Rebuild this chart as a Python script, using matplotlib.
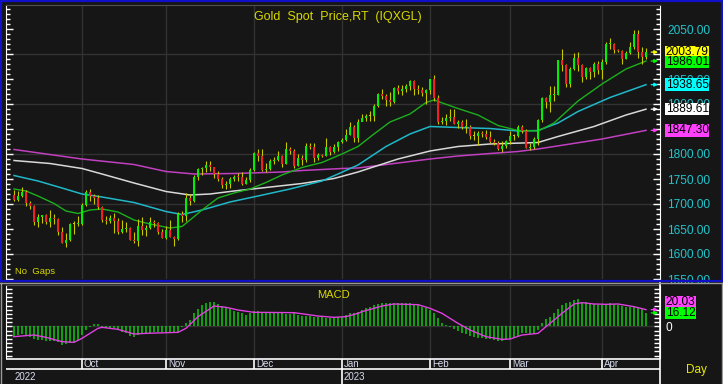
import numpy as np
import pandas as pd
import matplotlib
matplotlib.use('Agg')
import matplotlib.pyplot as plt
from matplotlib.lines import Line2D
from matplotlib.patches import Rectangle
from matplotlib.ticker import MultipleLocator, FuncFormatter

plt.rcParams['font.family'] = ['Liberation Sans', 'DejaVu Sans']

# trading days shown (spot gold, every weekday)
dates = pd.bdate_range('2022-09-08', '2023-04-18')

opens = [1718, 1708, 1716, 1725, 1702, 1697, 1665, 1675, 1678, 1664, 1673, 1671, 1644, 1623, 1628, 1660, 1660,
         1661, 1699, 1725, 1716, 1712, 1695, 1668, 1666, 1673, 1666, 1644, 1650, 1652, 1629, 1627, 1657, 1649, 1652, 1665, 1663, 1644,
         1633, 1648, 1634, 1630, 1681, 1676, 1712, 1706, 1755, 1771, 1772, 1779, 1774, 1761, 1751, 1738, 1740, 1750, 1755, 1754, 1741, 1749,
         1768, 1803, 1797, 1769, 1771, 1786, 1789, 1797, 1781, 1810, 1807, 1777, 1793, 1788, 1817, 1814, 1792, 1798, 1797, 1814, 1804, 1815,
         1824, 1828, 1839, 1855, 1833, 1865, 1872, 1876, 1876, 1896, 1920, 1916, 1908, 1904, 1932, 1926, 1931, 1937, 1946, 1930, 1928, 1923,
         1928, 1950, 1912, 1865, 1867, 1873, 1875, 1861, 1865, 1854, 1855, 1836, 1836, 1842, 1840, 1835, 1825, 1822, 1811, 1817,
         1827, 1836, 1836, 1855, 1847, 1813, 1814, 1831, 1868, 1913, 1904, 1918, 1919, 1988, 1979, 1940, 1970, 1993, 1978, 1955, 1973, 1964, 1980,
         1969, 1984, 2020, 2021, 2008, 2007, 1991, 2003, 2014, 2040, 2004, 1995]
highs = [1729, 1726, 1735, 1728, 1707, 1699, 1681, 1679, 1680, 1688, 1680, 1673, 1654, 1642, 1663, 1667, 1676,
         1703, 1729, 1730, 1721, 1719, 1697, 1676, 1678, 1682, 1672, 1669, 1664, 1655, 1644, 1670, 1675, 1659, 1675, 1669, 1665, 1650,
         1656, 1668, 1636, 1684, 1686, 1722, 1720, 1758, 1772, 1775, 1786, 1787, 1775, 1767, 1755, 1746, 1755, 1759, 1762, 1764, 1755, 1772,
         1805, 1810, 1810, 1782, 1790, 1794, 1807, 1798, 1825, 1814, 1810, 1800, 1798, 1822, 1823, 1823, 1802, 1800, 1833, 1816, 1820, 1826,
         1832, 1850, 1865, 1858, 1870, 1881, 1880, 1886, 1901, 1922, 1930, 1920, 1925, 1935, 1938, 1938, 1941, 1949, 1949, 1938, 1934, 1930,
         1951, 1959, 1918, 1874, 1880, 1890, 1890, 1869, 1869, 1870, 1858, 1846, 1846, 1847, 1848, 1847, 1830, 1827, 1826, 1829,
         1846, 1840, 1858, 1858, 1851, 1822, 1834, 1870, 1914, 1915, 1937, 1937, 1989, 2010, 1981, 1974, 2003, 2004, 1980, 1975, 1975, 1984, 1987,
         1990, 2025, 2032, 2022, 2010, 2009, 2007, 2024, 2048, 2048, 2015, 2012]
lows = [1707, 1707, 1714, 1697, 1691, 1659, 1654, 1662, 1660, 1654, 1660, 1639, 1622, 1615, 1626, 1641, 1657,
        1659, 1696, 1707, 1701, 1690, 1664, 1660, 1663, 1642, 1640, 1642, 1645, 1628, 1622, 1617, 1639, 1637, 1650, 1655, 1640, 1632,
        1630, 1634, 1616, 1629, 1664, 1666, 1699, 1705, 1749, 1759, 1764, 1767, 1753, 1746, 1732, 1731, 1733, 1746, 1747, 1739, 1740, 1745,
        1767, 1786, 1766, 1765, 1768, 1781, 1787, 1775, 1780, 1800, 1773, 1776, 1779, 1784, 1810, 1784, 1789, 1794, 1797, 1798, 1802, 1807,
        1822, 1826, 1838, 1825, 1825, 1866, 1866, 1867, 1867, 1895, 1911, 1896, 1897, 1902, 1921, 1918, 1925, 1928, 1918, 1921, 1917, 1900,
        1920, 1907, 1861, 1860, 1858, 1867, 1860, 1853, 1850, 1843, 1831, 1828, 1818, 1835, 1830, 1822, 1818, 1809, 1805, 1812,
        1821, 1829, 1835, 1843, 1813, 1809, 1810, 1819, 1865, 1893, 1885, 1906, 1918, 1967, 1934, 1935, 1968, 1966, 1945, 1950, 1950, 1955, 1960,
        1950, 1980, 2010, 2003, 2004, 1981, 1990, 2000, 2010, 1993, 1981, 1990]
closes = [1708, 1717, 1725, 1702, 1697, 1665, 1675, 1678, 1664, 1673, 1671, 1644, 1623, 1628, 1660, 1660, 1661,
          1699, 1725, 1716, 1712, 1695, 1668, 1666, 1673, 1666, 1644, 1650, 1652, 1629, 1627, 1657, 1649, 1652, 1665, 1663, 1644, 1633,
          1648, 1634, 1630, 1681, 1676, 1712, 1706, 1755, 1771, 1772, 1779, 1774, 1761, 1751, 1738, 1740, 1750, 1755, 1754, 1741, 1749, 1768,
          1803, 1797, 1769, 1771, 1786, 1789, 1797, 1781, 1810, 1807, 1777, 1793, 1788, 1817, 1814, 1792, 1798, 1797, 1814, 1804, 1815, 1824,
          1828, 1839, 1855, 1833, 1865, 1872, 1876, 1876, 1896, 1920, 1916, 1908, 1904, 1932, 1926, 1931, 1937, 1946, 1930, 1928, 1923, 1928,
          1950, 1912, 1865, 1867, 1873, 1875, 1861, 1865, 1854, 1855, 1836, 1836, 1842, 1840, 1835, 1825, 1822, 1811, 1817, 1827,
          1836, 1836, 1855, 1847, 1813, 1814, 1831, 1868, 1913, 1904, 1918, 1919, 1988, 1979, 1940, 1970, 1993, 1978, 1955, 1973, 1964, 1980, 1969,
          1984, 2020, 2021, 2008, 2007, 1991, 2003, 2014, 2040, 2004, 1995, 2003.79]

# moving averages at (day index, value)
ma20_idx = [0, 3, 6, 10, 13, 16, 19, 22, 26, 30, 34, 39, 42, 44, 47, 51, 55, 59, 63, 67, 72, 77, 82, 86,
            90, 94, 99, 103, 105, 111, 116, 121, 126, 131, 135, 141, 147, 153, 158]
ma20_val = [1730, 1726, 1716, 1701, 1686, 1681, 1688, 1690, 1684, 1668, 1660, 1652, 1655, 1668, 1688, 1712,
            1722, 1730, 1743, 1758, 1773, 1783, 1800, 1815, 1840, 1864, 1880, 1903, 1908, 1891, 1878, 1857,
            1847, 1846, 1862, 1906, 1940, 1970, 1986.01]
ma50_idx = [0, 6, 12, 17, 22, 30, 38, 42, 47, 54, 61, 69, 77, 81, 86, 93, 99, 104, 111, 119, 126, 131,
            136, 141, 149, 158]
ma50_val = [1757, 1746, 1732, 1720, 1714, 1703, 1685, 1679, 1688, 1704, 1716, 1730, 1746, 1760, 1778, 1815,
            1840, 1855, 1853, 1851, 1846, 1847, 1862, 1885, 1913, 1938.65]
ma100_idx = [0, 9, 17, 22, 30, 38, 44, 49, 55, 63, 72, 80, 86, 96, 104, 111, 119, 131, 136, 145, 153, 158]
ma100_val = [1787, 1781, 1771, 1760, 1742, 1725, 1718, 1720, 1726, 1733, 1741, 1751, 1764, 1790, 1806, 1815,
             1820, 1823, 1835, 1855, 1878, 1889.61]
ma200_idx = [0, 17, 30, 38, 45, 55, 67, 72, 82, 86, 96, 104, 111, 119, 126, 131, 139, 147, 158]
ma200_val = [1809, 1790, 1779, 1765, 1760, 1761, 1764, 1767, 1771, 1772, 1782, 1790, 1796, 1801, 1805, 1810,
             1820, 1830, 1847.30]

macd_hist = [-13.2, -10.4, -9.6, -11.2, -13.2, -15.6, -16.4, -16.4, -17.6, -17.6, -17.6, -19.2, -22.4, -21.6,
             -19.6, -18.4, -16.4, -10.4, -4.4, -0.4, 2.4, 2.8, -0.4, -1.6, -2.4, -2.4, -4.4, -6.4, -8.4, -11.6,
             -13.2, -10.4, -8.4, -8.4, -7.6, -6.4, -6.4, -6.4, -7.2, -7.6, -7.6, -6.4, -0.4, 4.4, 7.6, 15.6, 20.4,
             25.6, 27.6, 28.8, 29.2, 26.8, 24.4, 22.8, 20.8, 18.8, 17.6, 15.6, 13.6, 15.6, 18.4, 18.8, 17.2, 16.4,
             16.4, 16.4, 16.4, 15.6, 14.8, 14.8, 15.6, 13.6, 12.8, 12.4, 12.4, 11.6, 10.8, 10.8, 9.6, 9.6, 10.8,
             10.8, 11.6, 13.6, 15.6, 16.4, 16.8, 19.6, 21.6, 23.6, 25.6, 26.8, 27.6, 27.6, 27.6, 27.6, 27.6, 27.6,
             27.6, 27.6, 26.8, 25.6, 23.6, 21.6, 19.6, 16.4, 9.6, 4.4, 1.2, -1.2, -3.6, -5.2, -7.6, -9.6, -11.6,
             -13.2, -14.4, -14.4, -15.2, -15.6, -16.4, -17.2, -17.2, -16.4, -15.6, -13.2, -11.6, -8.4, -8.4, -9.2,
             -8.4, -4.4, 3.6, 8.4, 11.6, 15.6, 21.0, 26.0, 28.4, 29.2, 31.6, 32.4, 29.6, 29.2, 27.6, 26.8, 25.6,
             25.6, 26.8, 27.6, 26.8, 26.0, 24.4, 23.6, 22.8, 22.8, 22.8, 20.4, 16.12]
sig_idx = [0, 5, 8, 12, 15, 17, 21, 22, 26, 30, 33, 41, 43, 46, 50, 53, 56, 60, 70, 76, 80, 83, 86, 87, 92,
           95, 101, 104, 107, 111, 114, 118, 122, 124, 127, 131, 133, 137, 140, 142, 145, 148, 151, 155, 158]
sig_val = [-12.4, -10.4, -13.2, -18.4, -19.2, -14.4, -2.4, -1.2, -3.6, -9.2, -8.4, -7.2, -2.4, 11.6, 24.4,
           22.8, 19.6, 16.8, 16.4, 12.4, 10.8, 11.6, 15.6, 17.6, 24.4, 26.8, 26.0, 21.6, 15.6, 3.6, -4.4, -12.4,
           -15.6, -15.2, -10.4, -8.4, -0.4, 15.6, 26.8, 28.4, 26.8, 26.4, 26.8, 23.6, 20.03]

BG = '#161616'
GRID = '#323232'
YEL = '#d8d800'
W, H = 723, 384


def box(l, t, r, b):
    return [l / W, 1 - b / H, (r - l) / W, (b - t) / H]


def fig_line(x0, y0, x1, y1, c, lw=1.0):
    fig.add_artist(Line2D([x0 / W, x1 / W], [1 - y0 / H, 1 - y1 / H], color=c, lw=lw,
                          transform=fig.transFigure))


def small_arrow(a, v, col):
    a.annotate('', xy=(161.0, v), xytext=(159.3, v),
               arrowprops=dict(arrowstyle='-|>', color=col, lw=0.9, mutation_scale=5,
                               shrinkA=0, shrinkB=0), zorder=6)


fig = plt.figure(figsize=(W / 100, H / 100), dpi=100, facecolor=BG)
ax = fig.add_axes(box(6, 5, 660, 279))
axm = fig.add_axes(box(6, 285, 660, 358))
axd = fig.add_axes(box(6, 358, 660, 384))

n = len(closes)
idx = np.arange(n)
o = np.array(opens, float)
c = np.array(closes, float)
hi = np.array(highs, float)
lo = np.array(lows, float)
month_start = [i for i in range(1, n) if dates[i].month != dates[i - 1].month]

x_lim = (-2, 161.5)
for a in (ax, axm, axd):
    a.set_facecolor(BG)
    a.set_xlim(*x_lim)

# ---- price pane
ax.set_ylim(1550, 2098)
for m in month_start:
    ax.axvline(m, color=GRID, lw=1, zorder=0)
for p in range(1600, 2100, 100):
    ax.axhline(p, color=GRID, lw=1, zorder=0)

ax.plot(ma200_idx, ma200_val, color='#c040c0', lw=1.1, zorder=2)
ax.plot(ma100_idx, ma100_val, color='#d8d8d8', lw=1.1, zorder=2)
ax.plot(ma50_idx, ma50_val, color='#20b8c8', lw=1.1, zorder=2)
ax.plot(ma20_idx, ma20_val, color='#1cb01c', lw=1.0, zorder=2)

ax.vlines(idx, lo, hi, color='#c8c800', lw=0.8, zorder=3)
body_col = np.where(c > o, '#00ee00', np.where(c < o, '#f02020', '#c8c800'))
body_h = np.maximum(np.abs(c - o), 1.5)
ax.bar(idx, body_h, bottom=np.minimum(o, c), width=0.72, color=body_col, lw=0, zorder=4)

# labels under the 2003.79 and 1847.30 tags are fully covered in the original
hidden = {2000, 1850}
ax.yaxis.tick_right()
ax.yaxis.set_major_locator(MultipleLocator(50))
ax.yaxis.set_minor_locator(MultipleLocator(10))
ax.yaxis.set_major_formatter(FuncFormatter(lambda v, p: '' if round(v) in hidden else f'{v:.2f}'))
ax.tick_params(axis='y', which='both', left=True, right=True, direction='in', colors='white',
               labelcolor='#22c4cc', labelsize=8.6, pad=5)
ax.tick_params(axis='y', which='major', length=5, width=1)
ax.tick_params(axis='y', which='minor', length=3, width=1)
ax.tick_params(axis='x', bottom=False, labelbottom=False)
for s in ('left', 'right'):
    ax.spines[s].set_color('white')
ax.spines['top'].set_color('#505050')
ax.spines['bottom'].set_visible(False)

ax.text(0.379, 0.978, 'Gold  Spot  Price,RT  (IQXGL)', transform=ax.transAxes, color=YEL,
        fontsize=9, ha='left', va='top')
ax.text(0.014, 0.01, 'No  Gaps', transform=ax.transAxes, color=YEL, fontsize=6.8,
        ha='left', va='bottom')

tr = ax.get_yaxis_transform()
# (value, tag centre, colour): the two top tags are nudged apart as in the original
badges = [(2003.79, 2004.5, '#ffff00'), (1986.01, 1984.0, '#00ff00'), (1938.65, 1938.65, '#00ffff'),
          (1889.61, 1889.61, '#ffffff'), (1847.30, 1847.30, '#ff40ff')]
for v, yv, col in badges:
    ax.text(1.0085, yv, f'{v:.2f}', transform=tr, color='black', fontsize=8.6, va='center',
            ha='left', zorder=10, clip_on=False,
            bbox=dict(boxstyle='square,pad=0.02', fc=col, ec='none'))
    small_arrow(ax, v, col)

# ---- MACD pane
axm.set_ylim(-38, 49.6)
for m in month_start:
    axm.axvline(m, color=GRID, lw=1, zorder=0)
axm.axhline(0, color=GRID, lw=1, zorder=0)
axm.vlines(idx, 0, macd_hist, color='#10c810', lw=1.1, zorder=2)
axm.plot(sig_idx, sig_val, color='#e040e0', lw=1.0, zorder=3)
axm.yaxis.tick_right()
axm.yaxis.set_major_locator(MultipleLocator(5))
axm.set_yticklabels([])
axm.tick_params(axis='y', which='both', left=True, right=True, direction='in', colors='white',
                length=4, width=1)
axm.tick_params(axis='x', bottom=False, labelbottom=False)
for s in ('left', 'right'):
    axm.spines[s].set_color('white')
axm.spines['top'].set_color('#505050')
axm.spines['bottom'].set_visible(False)
axm.text(0.475, 0.93, 'MACD', transform=axm.transAxes, color=YEL, fontsize=8, ha='left', va='top')
trm = axm.get_yaxis_transform()
axm.text(1.008, -1.5, '0', transform=trm, color='white', fontsize=8.6, va='center', ha='left',
         clip_on=False)
for v, yv, col in [(20.03, 29.0, '#ff44ff'), (16.12, 16.0, '#00ff00')]:
    axm.text(1.0085, yv, f'{v:.2f}', transform=trm, color='black', fontsize=8.6, va='center',
             ha='left', zorder=10, clip_on=False,
             bbox=dict(boxstyle='square,pad=0.02', fc=col, ec='none'))
    small_arrow(axm, v, col)

# ---- date axis
axd.set_ylim(26, 0)
axd.axis('off')
axd.axhline(0.5, color='white', lw=1.2)
axd.axhline(11, color='white', lw=1.2)
for m in month_start:
    top = 26 if dates[m].month == 1 else 11
    axd.vlines(m, 0.5, top, color='white', lw=1.2)
    axd.text(m + 0.5, 6.2, dates[m].strftime('%b'), color='#d8dcf0', fontsize=7, va='center', ha='left')
    if dates[m].month == 1:
        axd.text(m + 0.5, 19, str(dates[m].year), color='#d8dcf0', fontsize=7, va='center', ha='left')
axd.text(0.2, 19, str(dates[0].year), color='#d8dcf0', fontsize=7, va='center', ha='left')

# ---- frame
fig_line(660, 283, 660, 384, 'white', 1.2)
fig_line(0, 283, 723, 283, '#9a9a9a', 1.0)
fig_line(0.8, 283, 0.8, 384, '#9a9a9a', 1.0)
fig_line(722.2, 283, 722.2, 384, '#9a9a9a', 1.0)
fig.add_artist(Rectangle((0.5 / W, 1 - 281 / H), 721 / W, 280 / H, transform=fig.transFigure,
                         fill=False, ec='#1010c8', lw=1.6))
fig.text(686 / W, 1 - 370 / H, 'Day', color='#e8e800', fontsize=8.5, va='center', ha='left')

fig.savefig('out.png', dpi=100, facecolor=BG)
